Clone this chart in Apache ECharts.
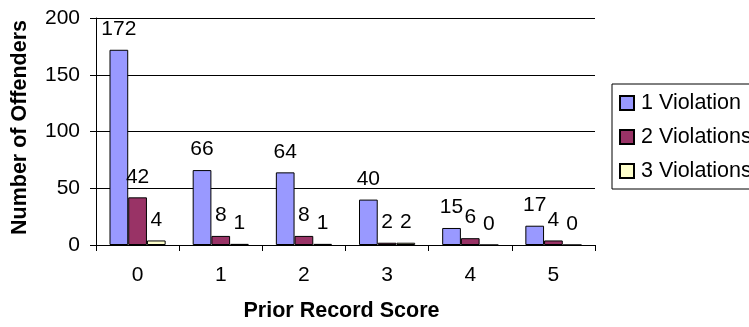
<!DOCTYPE html>
<html>
<head>
<meta charset="utf-8">
<script src="https://cdn.jsdelivr.net/npm/echarts@6/dist/echarts.min.js"></script>
<style>
  html, body { margin: 0; padding: 0; background: #fff; overflow: hidden; }
  #chart { width: 749px; height: 327px; }
</style>
</head>
<body>
<div id="chart"></div>
<script>
// Offenders by prior record score, split by number of violations
const categories = ['0', '1', '2', '3', '4', '5'];
const oneViolation = [172, 66, 64, 40, 15, 17];
const twoViolations = [42, 8, 8, 2, 6, 4];
const threeViolations = [4, 1, 1, 2, 0, 0];
const seriesNames = ['1 Violation', '2 Violations', '3 Violations'];
const yTicks = { min: 0, max: 200, interval: 50 };

const FONT = '"Liberation Sans", Arial, sans-serif';
const colors = ['#9999FF', '#993366', '#FFFFCC'];

function barSeries(name, data, color) {
  return {
    name: name,
    type: 'bar',
    data: data,
    barWidth: '22.5%',
    barGap: '0%',
    itemStyle: { color: color, borderColor: '#000', borderWidth: 1 },
    label: {
      show: true,
      position: 'top',
      distance: 10,
      color: '#000',
      fontFamily: FONT,
      fontSize: 21
    },
    emphasis: { disabled: true },
    animation: false
  };
}

const chart = echarts.init(document.getElementById('chart'), null, { renderer: 'canvas' });
chart.setOption({
  backgroundColor: '#fff',
  animation: false,
  grid: { left: 96, right: 154, top: 18, bottom: 77, containLabel: false },
  legend: {
    orient: 'vertical',
    left: 612,
    top: 84,
    padding: [8, 40, 7, 7],
    itemGap: 12,
    itemWidth: 14,
    itemHeight: 14,
    icon: 'rect',
    borderColor: '#000',
    borderWidth: 1,
    backgroundColor: '#fff',
    textStyle: { color: '#000', fontFamily: FONT, fontSize: 21.5, padding: [0, 0, 0, 2] },
    data: seriesNames
  },
  xAxis: {
    type: 'category',
    data: categories,
    name: 'Prior Record Score',
    nameLocation: 'middle',
    nameGap: 55,
    nameTextStyle: { color: '#000', fontFamily: FONT, fontSize: 21.5, fontWeight: 'bold', padding: [0, 8, 0, 0] },
    axisLine: { lineStyle: { color: '#000', width: 1 } },
    axisTick: { show: true, length: 6, alignWithLabel: false, lineStyle: { color: '#000' } },
    axisLabel: { color: '#000', fontFamily: FONT, fontSize: 21, margin: 20 },
    splitLine: { show: false }
  },
  yAxis: {
    type: 'value',
    min: yTicks.min,
    max: yTicks.max,
    interval: yTicks.interval,
    name: 'Number of Offenders',
    nameLocation: 'middle',
    nameGap: 65,
    nameTextStyle: { color: '#000', fontFamily: FONT, fontSize: 21.5, fontWeight: 'bold', padding: [0, 0, 0, 8] },
    axisLine: { show: true, lineStyle: { color: '#000', width: 1 } },
    axisTick: { show: true, length: 6, lineStyle: { color: '#000' } },
    axisLabel: { color: '#000', fontFamily: FONT, fontSize: 21, margin: 16 },
    splitLine: { show: true, lineStyle: { color: '#000', width: 1 } }
  },
  series: [
    barSeries(seriesNames[0], oneViolation, colors[0]),
    barSeries(seriesNames[1], twoViolations, colors[1]),
    barSeries(seriesNames[2], threeViolations, colors[2])
  ]
});
</script>
</body>
</html>
